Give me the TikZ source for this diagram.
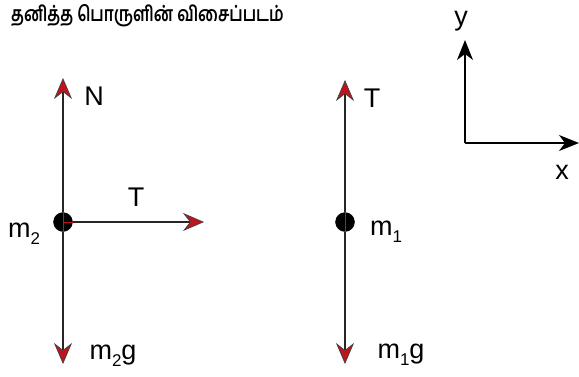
\documentclass[tikz,border=0pt]{standalone}
\usepackage{fontspec}
\setmainfont{Liberation Sans}
\newfontfamily\tamilfont[Script=Tamil]{Hind Madurai}
\usetikzlibrary{arrows.meta}

\definecolor{tipred}{RGB}{190,20,30}
\newcommand{\lowidx}[1]{\raisebox{-0.28em}{\fontsize{17}{17}\selectfont #1}}

\tikzset{
    force/.style={
        color=black!85,
        line width=1.5pt,
        -{Stealth[length=21pt,width=18pt,inset=7pt,color=black!75,fill=tipred,line width=0.7pt]}
    },
    axis/.style={
        color=black,
        line width=1.5pt,
        -{Stealth[length=20pt,width=16pt,inset=6pt,fill=black]}
    },
    ball/.style={
        draw=black,
        circle,
        fill=black,
        inner sep=0pt,
        minimum size=19pt
    },
    lbl/.style={
        font=\fontsize{27}{30}\selectfont,
        anchor=base,
        inner sep=0pt
    }
}

\begin{document}
\begin{tikzpicture}[x=1pt,y=-1pt]
\useasboundingbox (0,0) rectangle (579,376);
		\path
			node[anchor=west,inner sep=0pt,font=\tamilfont\bfseries\fontsize{16}{20}\selectfont] at (11,16) (title) {\scalebox{1}[1.3]{தனித்த பொருளின் விசைப்படம்}}
			;
		% first body
		\path
			node[ball] at (63,222) (m2) {}
			coordinate (n2) at (63,78)
			coordinate (w2) at (63,364)
			coordinate (t2) at (204,222)
			;
		% second body
		\path
			node[ball] at (345,222) (m1) {}
			coordinate (n1) at (345,80)
			coordinate (w1) at (345,364)
			;
		% axes
		\path
			coordinate (o) at (465,143)
			coordinate (ax) at (579,143)
			coordinate (ay) at (465,40)
			;
		\path [force]
			(m2) edge (n2)
			(m2) edge (w2)
			(m2) edge (t2)
			(m1) edge (n1)
			(m1) edge (w1)
			;
		\draw[tipred,line width=0.8pt] (m2.north) -- (m2.south);
		\draw[tipred,line width=0.8pt] (m1.north) -- (m1.south);
		\draw[tipred,line width=0.8pt] (m2.center) -- (m2.east);
		\path [axis]
			(o) edge (ax)
			(o) edge (ay)
			;
		\path
			node[lbl] at (94,105) (lN) {N}
			node[lbl] at (136,206) (lT2) {T}
			node[lbl] at (24,237) (lm2) {m\lowidx{2}}
			node[lbl] at (113,359) (lm2g) {m\lowidx{2}g}
			node[lbl] at (372,107) (lT1) {T}
			node[lbl] at (386,235) (lm1) {m\lowidx{1}}
			node[lbl] at (401,358) (lm1g) {m\lowidx{1}g}
			node[lbl] at (461,25) (ly) {y}
			node[lbl] at (562,179) (lx) {x}
			;
\end{tikzpicture}
\end{document}
